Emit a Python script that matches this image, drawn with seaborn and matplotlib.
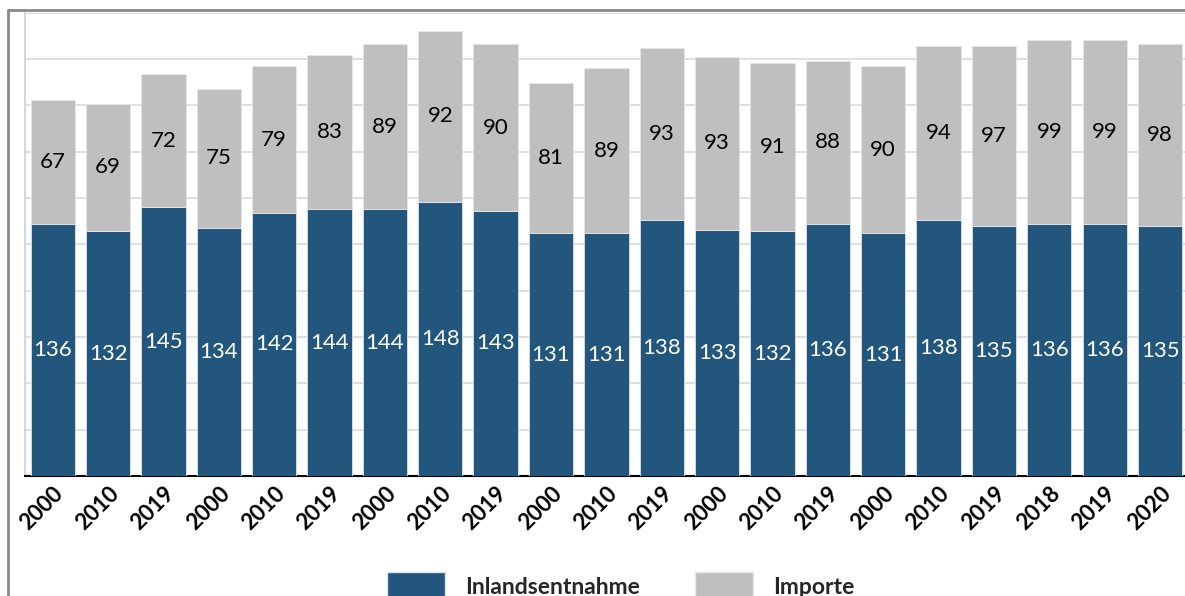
import matplotlib
matplotlib.use("Agg")
import matplotlib.pyplot as plt
import seaborn as sns
import numpy as np
import pandas as pd
from matplotlib.lines import Line2D
from matplotlib.patches import Patch

years = ["2000", "2010", "2019", "2000", "2010", "2019", "2000", "2010", "2019",
         "2000", "2010", "2019", "2000", "2010", "2019", "2000", "2010", "2019",
         "2018", "2019", "2020"]
inland = [136, 132, 145, 134, 142, 144, 144, 148, 143, 131, 131, 138, 133, 132,
          136, 131, 138, 135, 136, 136, 135]
importe = [67, 69, 72, 75, 79, 83, 89, 92, 90, 81, 89, 93, 93, 91, 88, 90, 94,
           97, 99, 99, 98]

blue = "#22567D"
gray = "#BFBFBF"

sns.set_theme(style="white")
plt.rcParams["font.family"] = ["Lato", "DejaVu Sans"]

pos = list(range(len(years)))
df = pd.DataFrame({"pos": pos, "inland": inland, "importe": importe})

fig = plt.figure(figsize=(11.85, 5.96), dpi=100)
ax = fig.add_axes([25 / 1185, 120 / 596, 1 - 25 / 1185, (476 - 12.7) / 596])

sns.barplot(data=df, x="pos", y="inland", color=blue, saturation=1, width=0.8,
            edgecolor="#d8e2ea", linewidth=0.6, ax=ax, zorder=3)
sns.barplot(data=df, x="pos", y="importe", bottom=df["inland"], color=gray,
            saturation=1, width=0.8, edgecolor="#e6e6e6", linewidth=0.6, ax=ax,
            zorder=3)

ax.bar_label(ax.containers[0], labels=[str(v) for v in inland], label_type="center",
             color="white", fontsize=16)
ax.bar_label(ax.containers[1], labels=[str(v) for v in importe], label_type="center",
             color="black", fontsize=16)

ax.set_ylim(0, 250)
ax.set_xlim(-0.5, 20.45)
ax.set_yticks(np.arange(0, 251, 25))
ax.set_yticklabels([])
ax.yaxis.grid(True, color="#D9D9D9", linewidth=1.2, zorder=0)
ax.set_axisbelow(True)
ax.set_xlabel("")
ax.set_ylabel("")
ax.set_xticks(pos)
ax.set_xticklabels(years, rotation=45, ha="right", va="top", rotation_mode="anchor",
                   fontsize=16, fontweight="bold", color="black")
ax.tick_params(axis="x", length=0, pad=5)
ax.tick_params(axis="y", length=0)
for s in ["top", "right"]:
    ax.spines[s].set_visible(False)
ax.spines["left"].set_color("#D0D0D0")
ax.spines["left"].set_linewidth(1.2)
ax.spines["bottom"].set_color("black")
ax.spines["bottom"].set_linewidth(1.5)

# outer chart frame
fig.add_artist(Line2D([8 / 1185, 8 / 1185], [0, 1 - 10 / 596], color="#8a8a8a",
                      linewidth=2, transform=fig.transFigure))
fig.add_artist(Line2D([8 / 1185, 1], [1 - 10 / 596, 1 - 10 / 596], color="#8a8a8a",
                      linewidth=2, transform=fig.transFigure))

handles = [Patch(facecolor=blue, edgecolor="#d8e2ea", label="Inlandsentnahme"),
           Patch(facecolor=gray, edgecolor="#e6e6e6", label="Importe")]
leg = fig.legend(handles=handles, loc="center", bbox_to_anchor=(621 / 1185, 10 / 596),
                 ncol=2, frameon=False, handlelength=2.5, handleheight=1.5,
                 handletextpad=0.9, columnspacing=2.4,
                 prop={"size": 16.5, "weight": "bold"})

fig.savefig("out.png", dpi=100)
